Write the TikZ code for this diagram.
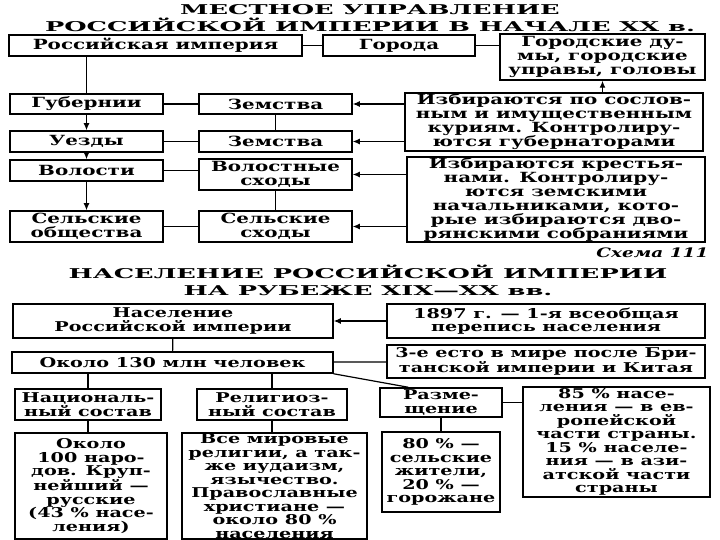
\documentclass[tikz,border=0pt]{standalone}
\usepackage{fontspec}
\setmainfont{DejaVu Serif}[FakeStretch=1.42]
\newfontfamily\titlefont{DejaVu Serif}[FakeStretch=1.9]
\usetikzlibrary{arrows.meta}

\begin{document}
\begin{tikzpicture}[x=1pt, y=-1pt, >={Latex[length=7pt, width=6pt]}, line width=1.2pt,
  box/.style={draw, line width=1.5pt, align=center, inner sep=0pt, font=\fontsize{14}{14}\selectfont\bfseries},
  boxb/.style={box, font=\fontsize{13.5}{13.5}\selectfont\bfseries},
  heading/.style={align=center, inner sep=0pt, font=\titlefont\fontsize{13.5}{17}\selectfont\bfseries}]
\useasboundingbox (0,0) rectangle (720,540);
\node[heading] (title1) at (370,18.5) {МЕСТНОЕ УПРАВЛЕНИЕ\\РОССИЙСКОЙ ИМПЕРИИ В НАЧАЛЕ XX в.};
\node[box, minimum width=293pt, minimum height=21pt] (rosimp) at (155.5,45.5) {Российская империя};
\node[box, minimum width=152pt, minimum height=21pt] (goroda) at (399,45.5) {Города};
\node[box, minimum width=205pt, minimum height=46pt] (dumy) at (602.5,57) {Городские ду-\\мы, городские\\управы, головы};
\node[box, minimum width=153pt, minimum height=20pt] (gub) at (86.5,104) {Губернии};
\node[box, minimum width=153pt, minimum height=20pt] (zem1) at (275.5,104) {Земства};
\node[box, minimum width=298pt, minimum height=58pt] (izb1) at (554,122) {Избираются по сослов-\\ным и имущественным\\куриям. Контролиру-\\ются губернаторами};
\node[box, minimum width=153pt, minimum height=21pt] (uezd) at (86.5,141.5) {Уезды};
\node[box, minimum width=153pt, minimum height=21pt] (zem2) at (275.5,141.5) {Земства};
\node[box, minimum width=153pt, minimum height=21pt] (vol) at (86.5,170.5) {Волости};
\node[box, minimum width=153pt, minimum height=31pt] (volsh) at (275.5,174.5) {Волостные\\сходы};
\node[box, minimum width=298pt, minimum height=85pt] (izb2) at (556,199.5) {Избираются крестья-\\нами. Контролиру-\\ются земскими\\начальниками, кото-\\рые избираются дво-\\рянскими собраниями};
\node[box, minimum width=153pt, minimum height=31pt] (selob) at (86.5,226.5) {Сельские\\общества};
\node[box, minimum width=153pt, minimum height=31pt] (selsh) at (275.5,226.5) {Сельские\\сходы};
\draw (rosimp) -- (goroda);
\draw (goroda) -- (dumy.west |- goroda);
\draw (rosimp.south -| gub.north) -- (gub.north);
\draw[->] (gub) -- (uezd);
\draw[->] (uezd) -- (vol);
\draw[->] (vol) -- (selob);
\draw (gub) -- (zem1);
\draw (uezd) -- (zem2);
\draw (vol) -- (vol -| volsh.west);
\draw (selob) -- (selsh);
\draw (zem1) -- (zem2);
\draw (volsh) -- (selsh);
\draw[->] (izb1.west |- zem1) -- (zem1);
\draw[->] (izb1.west |- zem2) -- (zem2);
\draw[->] (dumy.south |- izb1.north) -- (dumy.south);
\draw[->] (izb2.west |- volsh) -- (volsh);
\draw[->] (izb2.west |- selsh) -- (selsh);
\node[anchor=east, inner sep=0pt, font=\fontsize{13}{13}\selectfont\bfseries\itshape] (schema) at (709,253) {Схема 111};
\node[heading] (title2) at (368,280.5) {НАСЕЛЕНИЕ РОССИЙСКОЙ ИМПЕРИИ\\НА РУБЕЖЕ XIX—XX вв.};
\node[boxb, minimum width=320pt, minimum height=34pt] (nas) at (173,321) {Население\\Российской империи};
\node[boxb, minimum width=318pt, minimum height=34pt] (perep) at (546,321) {1897 г. — 1-я всеобщая\\перепись населения};
\node[boxb, minimum width=321pt, minimum height=21pt] (okolo) at (172.5,362.5) {Около 130 млн человек};
\node[boxb, minimum width=318pt, minimum height=33pt] (mesto) at (546,361.5) {3-е есто в мире после Бри-\\танской империи и Китая};
\node[boxb, minimum width=146pt, minimum height=31pt] (nats) at (88,404.5) {Националь-\\ный состав};
\node[boxb, minimum width=150pt, minimum height=31pt] (relig) at (272,404.5) {Религиоз-\\ный состав};
\node[boxb, minimum width=122pt, minimum height=29pt] (razm) at (441,402.5) {Разме-\\щение};
\node[boxb, minimum width=187pt, minimum height=110pt] (p85) at (616.5,442) {85 \% насе-\\ления — в ев-\\ропейской\\части страны.\\15 \% населе-\\ния — в ази-\\атской части\\страны};
\node[boxb, minimum width=152pt, minimum height=106pt] (p100) at (91,486) {Около\\100 наро-\\дов. Круп-\\нейший —\\русские\\(43 \% насе-\\ления)};
\node[boxb, minimum width=185pt, minimum height=106pt] (vse) at (274.5,486) {Все мировые\\религии, а так-\\же иудаизм,\\язычество.\\Православные\\христиане —\\около 80 \%\\населения};
\node[boxb, minimum width=118pt, minimum height=80pt] (p80) at (441,472) {80 \% —\\сельские\\жители,\\20 \% —\\горожане};
\draw[->] (perep) -- (nas);
\draw (nas) -- (okolo);
\draw (okolo) -- (mesto);
\draw (nats.north |- okolo.south) -- (nats.north);
\draw (relig.north |- okolo.south) -- (relig.north);
\draw (okolo.-4) -- (razm.155);
\draw (razm) -- (razm -| p85.west);
\draw (nats.south) -- (nats.south |- p100.north);
\draw (relig.south) -- (relig.south |- vse.north);
\draw (razm) -- (p80);
\end{tikzpicture}
\end{document}
